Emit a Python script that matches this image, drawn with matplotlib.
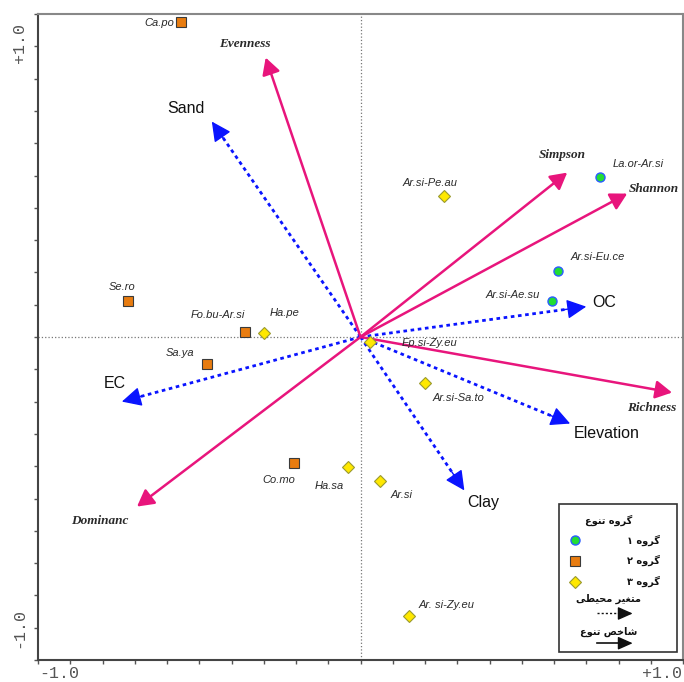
import numpy as np
import matplotlib
matplotlib.use('Agg')
import matplotlib.pyplot as plt
from matplotlib.patches import Rectangle

# site scores (axis 1, axis 2) and diversity group
site_names = ['Ca.po', 'Se.ro', 'Fo.bu-Ar.si', 'Sa.ya', 'Co.mo',
              'Ha.pe', 'Ha.sa', 'Ar.si', 'Ar. si-Zy.eu', 'Ep.si-Zy.eu', 'Ar.si-Sa.to', 'Ar.si-Pe.au',
              'La.or-Ar.si', 'Ar.si-Eu.ce', 'Ar.si-Ae.su']
site_x = [-0.557, -0.721, -0.359, -0.477, -0.207,
          -0.300, -0.040, 0.062, 0.149, 0.028, 0.201, 0.260,
          0.743, 0.613, 0.594]
site_y = [0.974, 0.113, 0.014, -0.085, -0.389,
          0.011, -0.404, -0.447, -0.865, -0.014, -0.141, 0.438,
          0.496, 0.203, 0.110]
site_group = [2, 2, 2, 2, 2,
              3, 3, 3, 3, 3, 3, 3,
              1, 1, 1]

# environmental variables (dotted blue)
env_names = ['Sand', 'EC', 'OC', 'Elevation', 'Clay']
env_x = [-0.461, -0.740, 0.700, 0.650, 0.322]
env_y = [0.667, -0.200, 0.094, -0.268, -0.475]

# diversity indices (solid magenta)
div_names = ['Evenness', 'Simpson', 'Shannon', 'Richness', 'Dominanc']
div_x = [-0.294, 0.641, 0.827, 0.966, -0.693]
div_y = [0.865, 0.509, 0.444, -0.172, -0.525]

legend_title = 'گروه تنوع'
group_labels = ['گروه ۱', 'گروه ۲', 'گروه ۳']
env_legend = 'متغیر محیطی'
div_legend = 'شاخص تنوع'

# label offsets in pixels (dx, dy, ha)
site_off = {
    'Ca.po': (-7, -1, 'right'), 'Se.ro': (-6, 14, 'center'),
    'Fo.bu-Ar.si': (-27, 17, 'center'), 'Sa.ya': (-27, 11, 'center'),
    'Co.mo': (-15, -17, 'center'), 'Ha.pe': (21, 20, 'center'),
    'Ha.sa': (-18, -19, 'center'), 'Ar.si': (21, -14, 'center'),
    'Ar. si-Zy.eu': (38, 11, 'center'), 'Ep.si-Zy.eu': (32, -1, 'left'),
    'Ar.si-Sa.to': (7, -15, 'left'), 'Ar.si-Pe.au': (-14, 13, 'center'),
    'La.or-Ar.si': (38, 13, 'center'), 'Ar.si-Eu.ce': (40, 14, 'center'),
    'Ar.si-Ae.su': (-39, 6, 'center'),
}
env_off = {'Sand': (-26, 13, 'center'), 'EC': (-7, 18, 'center'),
           'OC': (6, 4, 'left'), 'Elevation': (37, -10, 'center'),
           'Clay': (19, -12, 'center')}
div_off = {'Evenness': (-21, 14, 'center'), 'Simpson': (-5, 18, 'center'),
           'Shannon': (27, 5, 'center'), 'Richness': (-20, -15, 'center'),
           'Dominanc': (-37, -14, 'center')}

# contextual forms: isolated, final, initial, medial
FORMS = {
    'ا': ('\uFE8D', '\uFE8E', None, None),
    'ر': ('\uFEAD', '\uFEAE', None, None),
    'و': ('\uFEED', '\uFEEE', None, None),
    'گ': ('\uFB92', '\uFB93', '\uFB94', '\uFB95'),
    'ه': ('\uFEE9', '\uFEEA', '\uFEEB', '\uFEEC'),
    'ت': ('\uFE95', '\uFE96', '\uFE97', '\uFE98'),
    'ن': ('\uFEE5', '\uFEE6', '\uFEE7', '\uFEE8'),
    'ع': ('\uFEC9', '\uFECA', '\uFECB', '\uFECC'),
    'م': ('\uFEE1', '\uFEE2', '\uFEE3', '\uFEE4'),
    'غ': ('\uFECD', '\uFECE', '\uFECF', '\uFED0'),
    'ی': ('\uFBFC', '\uFBFD', '\uFBFE', '\uFBFF'),
    'ح': ('\uFEA1', '\uFEA2', '\uFEA3', '\uFEA4'),
    'ط': ('\uFEC1', '\uFEC2', '\uFEC3', '\uFEC4'),
    'ش': ('\uFEB5', '\uFEB6', '\uFEB7', '\uFEB8'),
    'خ': ('\uFEA5', '\uFEA6', '\uFEA7', '\uFEA8'),
    'ص': ('\uFEB9', '\uFEBA', '\uFEBB', '\uFEBC'),
}


def rtl(text):
    words = []
    for w in text.split(' '):
        out = []
        for i, ch in enumerate(w):
            if ch not in FORMS:
                out.append(ch)
                continue
            prev = w[i - 1] if i > 0 else None
            nxt = w[i + 1] if i + 1 < len(w) else None
            jp = prev in FORMS and FORMS[prev][2] is not None
            jn = nxt in FORMS and FORMS[ch][2] is not None
            f = FORMS[ch]
            out.append(f[3] if jp and jn else f[1] if jp else f[2] if jn else f[0])
        words.append(''.join(out[::-1]))
    return ' '.join(words[::-1])


MAG = '#e8157c'
BLUE = '#0a14ff'
styles = {1: dict(marker='o', mfc='#22dd33', mec='#2a5cff', ms=6.5, mew=1),
          2: dict(marker='s', mfc='#e87c10', mec='#3a3a3a', ms=6.5, mew=0.8),
          3: dict(marker='D', mfc='#ffe800', mec='#9a9a30', ms=6, mew=0.8)}

fig = plt.figure(figsize=(6.84, 6.82), dpi=100)
ax = fig.add_axes([38 / 684, 22 / 682, 645 / 684, 646 / 682])
ax.set_xlim(-1, 1)
ax.set_ylim(-1, 1)

ticks = np.round(np.arange(-1, 1.01, 0.1), 1)
ax.set_xticks(ticks)
ax.set_yticks(ticks)
ax.set_xticklabels([])
ax.set_yticklabels([])
ax.tick_params(direction='out', length=3, width=1, color='#555')
for s in ['left', 'bottom']:
    ax.spines[s].set_color('#444')
    ax.spines[s].set_linewidth(1.5)
for s in ['top', 'right']:
    ax.spines[s].set_color('#888')
    ax.spines[s].set_linewidth(1.5)

ax.axhline(0, color='#777', lw=0.9, ls=':', zorder=1)
ax.axvline(0, color='#777', lw=0.9, ls=':', zorder=1)

tick_font = dict(family='Liberation Mono', fontsize=12, color='#555')
ax.text(-0.935, -1.02, '-1.0', ha='center', va='top', **tick_font)
ax.text(0.935, -1.02, '+1.0', ha='center', va='top', **tick_font)
ax.text(-1.035, 0.91, '+1.0', ha='right', va='center', rotation=90, **tick_font)
ax.text(-1.035, -0.90, '-1.0', ha='right', va='center', rotation=90, **tick_font)


def head(x0, y0, x, y, color, hl, hw, transform=None):
    kw = {} if transform is None else dict(xycoords=transform)
    ax.annotate('', xy=(x, y), xytext=(x0, y0),
                arrowprops=dict(arrowstyle='-|>,head_length=%s,head_width=%s' % (hl, hw),
                                mutation_scale=10, color=color, lw=1,
                                shrinkA=0, shrinkB=0), zorder=7, **kw)


# environmental arrows
for name, x, y in zip(env_names, env_x, env_y):
    r = np.hypot(x, y)
    k = (r - 0.03) / r
    ax.plot([0, x * k], [0, y * k], color=BLUE, lw=2, ls=(0, (1.3, 1.3)), zorder=2)
    k2 = (r - 0.07) / r
    head(x * k2, y * k2, x, y, BLUE, 1.2, 0.6)
    dx, dy, ha = env_off[name]
    ax.annotate(name, (x, y), xytext=(dx, dy), textcoords='offset pixels',
                ha=ha, va='center', fontsize=11.5, family='Liberation Sans', color='#111')

# diversity arrows
for name, x, y in zip(div_names, div_x, div_y):
    ax.annotate('', xy=(x, y), xytext=(0, 0),
                arrowprops=dict(arrowstyle='-|>,head_length=1.0,head_width=0.55',
                                mutation_scale=10, color=MAG, lw=1.8,
                                shrinkA=0, shrinkB=0), zorder=2)
    dx, dy, ha = div_off[name]
    ax.annotate(name, (x, y), xytext=(dx, dy), textcoords='offset pixels',
                ha=ha, va='center', fontsize=9.5, family='Liberation Serif',
                style='italic', weight='bold', color='#2a2a2a')

# sites
for name, x, y, g in zip(site_names, site_x, site_y, site_group):
    ax.plot(x, y, ls='none', zorder=4, clip_on=False, **styles[g])
    dx, dy, ha = site_off[name]
    ax.annotate(name, (x, y), xytext=(dx, dy), textcoords='offset pixels',
                ha=ha, va='center', fontsize=8, family='Liberation Sans',
                style='italic', color='#2a2a2a', zorder=5)

# legend box
tr = ax.transAxes
ax.add_patch(Rectangle((0.807, 0.012), 0.183, 0.229, transform=tr,
                       facecolor='white', edgecolor='#333', lw=1.2, zorder=6))
fa = dict(transform=tr, family='DejaVu Sans', weight='bold', fontsize=7,
          color='#111', zorder=7)
ax.text(0.884, 0.216, rtl(legend_title), ha='center', va='center', **fa)
for i, (lab, g) in enumerate(zip(group_labels, [1, 2, 3])):
    yy = 0.186 - i * 0.0325
    ax.plot(0.832, yy, transform=tr, ls='none', zorder=7, **styles[g])
    ax.text(0.964, yy, rtl(lab), ha='right', va='center', **fa)
ax.text(0.884, 0.094, rtl(env_legend), ha='center', va='center', **fa)
ax.plot([0.867, 0.905], [0.072, 0.072], transform=tr, color='#111', lw=1,
        ls=(0, (1.5, 1.5)), zorder=7)
head(0.900, 0.072, 0.922, 0.072, '#111', 0.9, 0.4, transform=tr)
ax.text(0.884, 0.043, rtl(div_legend), ha='center', va='center', **fa)
ax.plot([0.867, 0.905], [0.026, 0.026], transform=tr, color='#111', lw=1.2, zorder=7)
head(0.900, 0.026, 0.922, 0.026, '#111', 0.9, 0.4, transform=tr)

fig.savefig('out.png', dpi=100, facecolor='white')
